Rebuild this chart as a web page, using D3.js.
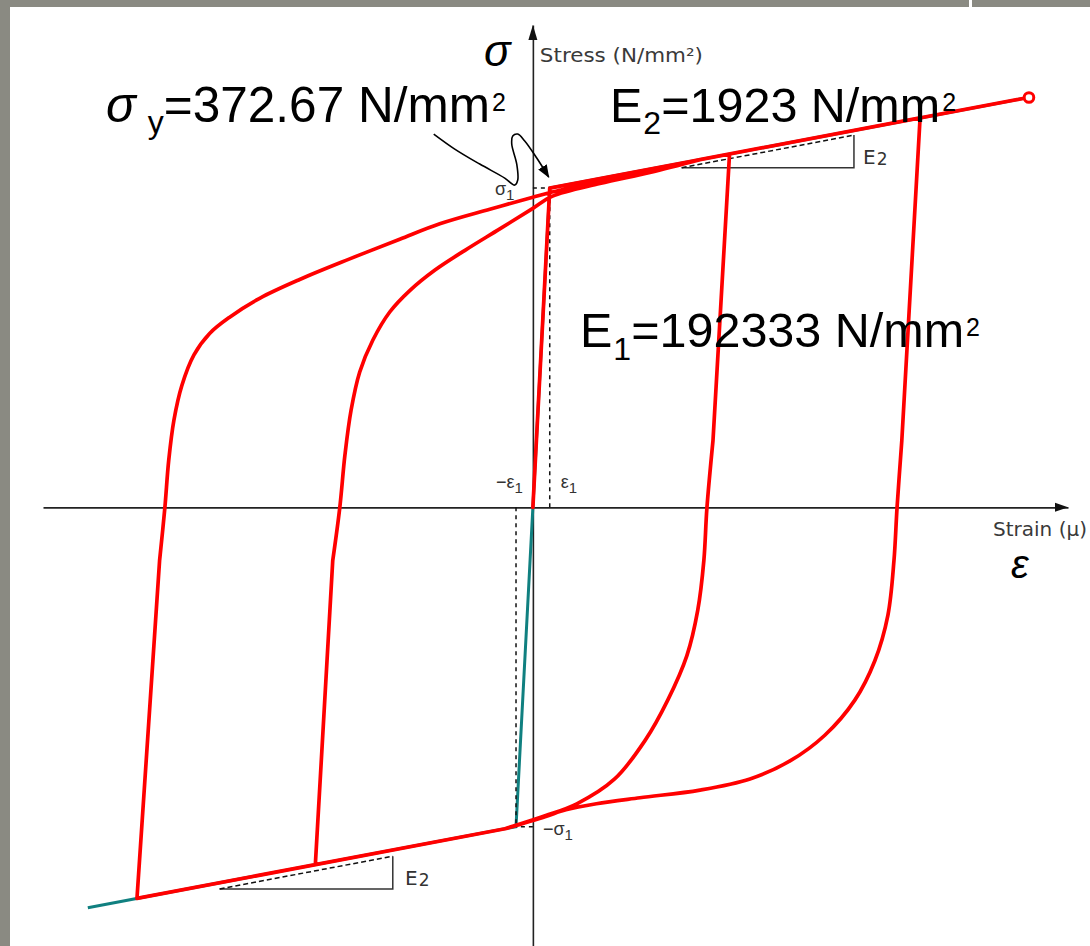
<!DOCTYPE html>
<html><head><meta charset="utf-8">
<script src="https://cdn.jsdelivr.net/npm/d3@7"></script>
<style>html,body{margin:0;padding:0;background:#fff;} svg{display:block;}</style>
</head><body>
<svg id="chart" width="1090" height="946"></svg>
<script>
// Bilinear steel model: stress in N/mm², strain in micro-strain (μ)
const sigmaY = 372.67;
const E1 = 192333;
const E2 = 1923;
const eps1 = sigmaY / E1 * 1e6;

// Axis extents (strain μ, stress N/mm²)
const strainDomain = [-56300, 61500];
const stressDomain = [-512, 563];

// Skeleton curve end strains
const skeletonEnds = [-51150, 56900];

// Reversal points on the skeleton, in loading order (strain μ)
const peakStrain = [22600, -25000, 44500, -45500, 56900];

// Curved branches: first point ends the elastic part, last point rejoins the skeleton
const unload1Strain = [20700, 20000, 19650, 18950, 17700, 15500, 12900, 9400, 5050, 1400, -3200];
const unload1Stress = [78, -1, -62, -120, -173, -225, -272, -317, -346, -360, -375.1];
const reload1Strain = [-23000, -22200, -21600, -20900, -19900, -18400, -16450, -14150, -11250, -7800, -3800, 0, 2200, 7700, 13450, 19200];
const reload1Stress = [-62, -1, 61, 113, 158, 195, 228, 253, 277, 300, 325, 349, 363, 378, 391, 405.9];
const unload2Strain = [42400, 41850, 41500, 40800, 39300, 37000, 33550, 29550, 24950, 19200, 12300, 7300, 3800, 1400, -3200];
const unload2Stress = [78, -1, -62, -126, -179, -225, -266, -296, -317, -330, -339, -346, -353, -361, -375.1];
const reload2Strain = [-42900, -42300, -41850, -41250, -40350, -38950, -37150, -34850, -31400, -26800, -21050, -15300, -10700, -4950, 0, 2200, 7700, 13450, 19200];
const reload2Stress = [-62, -1, 55, 102, 142, 178, 203, 222, 244, 266, 290, 313, 331, 348, 362, 368, 381, 394, 405.9];

// Slope triangles for E2: strain span and base stress
const triangleStrain = [[17100, 36900], [-36000, -16100]];
const triangleBase = [396.4, -445.4];

// Text
const stressAxisLabel = "Stress (N/mm²)";
const strainAxisLabel = "Strain (μ)";

// ---------------------------------------------------------------
const svg = d3.select("#chart");
const W = 1090, H = 946;

const x = d3.scaleLinear().domain(strainDomain).range([43, 1068]);
const y = d3.scaleLinear().domain(stressDomain).range([946, 25]);

function skeleton(e) {
  const a = Math.abs(e);
  if (a <= eps1) return E1 * e * 1e-6;
  return Math.sign(e) * (sigmaY + E2 * (a - eps1) * 1e-6);
}
const pt = (e, s) => [x(e), y(s)];
const zip = (es, ss) => es.map((e, i) => pt(e, ss[i]));

const lin = d3.line();
const smooth = d3.line().curve(d3.curveCatmullRom.alpha(0.5));

// frame
svg.append("rect").attr("width", W).attr("height", H).attr("fill", "#8a8a82");
svg.append("rect").attr("x", 10).attr("y", 7).attr("width", W - 10).attr("height", H - 7).attr("fill", "#fff");
svg.append("rect").attr("x", 969).attr("y", 0).attr("width", 3).attr("height", 8).attr("fill", "#fff");

// axes (no ticks, arrow heads at the positive ends)
const gx = svg.append("g").attr("transform", `translate(0,${y(0)})`)
  .call(d3.axisBottom(x).tickValues([]).tickSizeOuter(0));
const gy = svg.append("g").attr("transform", `translate(${x(0)},0)`)
  .call(d3.axisLeft(y).tickValues([]).tickSizeOuter(0));
[gx, gy].forEach(g => g.select(".domain").attr("stroke", "#222").attr("stroke-width", 1.6));

const xTip = x.range()[1], yTip = y.range()[1];
svg.append("path").attr("fill", "#111")
  .attr("d", `M${xTip},${y(0)}L${xTip - 13},${y(0) - 4.5}L${xTip - 13},${y(0) + 4.5}Z`);
svg.append("path").attr("fill", "#111")
  .attr("d", `M${x(0)},${yTip}L${x(0) - 4.5},${yTip + 15}L${x(0) + 4.5},${yTip + 15}Z`);

// skeleton (teal) underneath the load path
const skelPts = [
  pt(skeletonEnds[0], skeleton(skeletonEnds[0])),
  pt(-eps1, -sigmaY), pt(eps1, sigmaY),
  pt(skeletonEnds[1], skeleton(skeletonEnds[1]))
];
svg.append("path").attr("d", lin(skelPts)).attr("fill", "none")
  .attr("stroke", "#108080").attr("stroke-width", 3);

// dashed reference lines at the yield point
const dash = svg.append("g").attr("fill", "none").attr("stroke", "#111")
  .attr("stroke-width", 1.5).attr("stroke-dasharray", "4,4");
dash.append("path").attr("d", lin([pt(0, sigmaY), pt(eps1, sigmaY)]));
dash.append("path").attr("d", lin([pt(eps1, 0), pt(eps1, sigmaY)]));
dash.append("path").attr("d", lin([pt(-eps1, 0), pt(-eps1, -sigmaY)]));
dash.append("path").attr("d", lin([pt(0, -sigmaY), pt(-eps1, -sigmaY)]));

// E2 slope triangles
triangleStrain.forEach(([e0, e1], i) => {
  const b = triangleBase[i];
  const top = b + E2 * (e1 - e0) * 1e-6;
  svg.append("path").attr("fill", "none").attr("stroke", "#333").attr("stroke-width", 1.5)
    .attr("d", lin([pt(e0, b), pt(e1, b), pt(e1, top)]));
  svg.append("path").attr("fill", "none").attr("stroke", "#111").attr("stroke-width", 1.5)
    .attr("stroke-dasharray", "5,3").attr("d", lin([pt(e0, b), pt(e1, top)]));
});

// load path (red)
const peaks = peakStrain.map(e => pt(e, skeleton(e)));
const curves = [
  zip(unload1Strain, unload1Stress),
  zip(reload1Strain, reload1Stress),
  zip(unload2Strain, unload2Stress),
  zip(reload2Strain, reload2Stress)
];
let d = lin([pt(0, 0), pt(eps1, sigmaY), peaks[0]]);
curves.forEach((c, i) => {
  d += lin([peaks[i], c[0]]) + smooth(c) + lin([c[c.length - 1], peaks[i + 1]]);
});
svg.append("path").attr("d", d).attr("fill", "none").attr("stroke", "#ff0000")
  .attr("stroke-width", 3.7).attr("stroke-linejoin", "round").attr("stroke-linecap", "round");

const endPt = peaks[peaks.length - 1];
svg.append("circle").attr("cx", endPt[0] + 1).attr("cy", endPt[1]).attr("r", 4.8)
  .attr("fill", "#fff").attr("stroke", "#ff0000").attr("stroke-width", 3);

// small axis labels
const small = svg.append("g").attr("font-family", "DejaVu Sans").attr("fill", "#3a3a3a");
small.append("text").attr("x", x(0) + 7).attr("y", 62).attr("font-size", 19)
  .attr("textLength", 163).attr("lengthAdjust", "spacingAndGlyphs").text(stressAxisLabel);
small.append("text").attr("x", 993).attr("y", 536).attr("font-size", 19)
  .attr("textLength", 94).attr("lengthAdjust", "spacingAndGlyphs").text(strainAxisLabel);

const marks = svg.append("g").attr("font-family", "Liberation Sans, Arial, sans-serif").attr("fill", "#333");
function subLabel(xx, yy, main, sub) {
  const t = marks.append("text").attr("x", xx).attr("y", yy).attr("font-size", 18);
  t.append("tspan").text(main);
  t.append("tspan").attr("font-size", 15).attr("dy", 5).text(sub);
}
subLabel(x(0) - 38, y(sigmaY) + 7, "σ", "1");
subLabel(x(-eps1) - 20, y(0) - 19, "−ε", "1");
subLabel(x(eps1) + 11, y(0) - 19, "ε", "1");
subLabel(x(0) + 10, y(-sigmaY) + 8, "−σ", "1");

function e2Label(xx, yy) {
  const t = small.append("text").attr("x", xx).attr("y", yy).attr("font-size", 20).attr("fill", "#333");
  t.append("tspan").text("E");
  t.append("tspan").attr("font-size", 17).attr("dy", 1).attr("dx", 1).text("2");
}
e2Label(863, 164);
e2Label(405, 885);

// large annotations
const big = svg.append("g").attr("font-family", "Liberation Sans, Arial, sans-serif").attr("fill", "#000");
big.append("text").attr("x", 484).attr("y", 66).attr("font-size", 44).attr("font-style", "italic").text("σ");
big.append("text").attr("x", 1011).attr("y", 578).attr("font-size", 40).attr("font-style", "italic").text("ε");

function bigLabel(xx, yy, size, head, headItalic, sub, subGap, subDrop, body) {
  const t = big.append("text").attr("y", yy).attr("font-size", size);
  t.append("tspan").attr("x", xx).attr("font-style", headItalic ? "italic" : null).text(head);
  t.append("tspan").attr("font-size", 32).attr("dx", subGap).attr("dy", subDrop).text(sub);
  t.append("tspan").attr("dy", -subDrop).text(body);
  t.append("tspan").attr("font-size", 25).attr("dx", 2).attr("dy", -11).text("2");
}
bigLabel(106, 122, 49.5, "σ", true, "y", 12, 11, "=372.67 N/mm");
bigLabel(610, 122, 48.5, "E", false, "2", 1, 12, "=1923 N/mm");
bigLabel(580, 347, 48.5, "E", false, "1", 1, 13, "=192333 N/mm");

// callout arrow pointing at the yield point
const defs = svg.append("defs");
defs.append("marker").attr("id", "callout-head").attr("viewBox", "0 0 13 10")
  .attr("refX", 12).attr("refY", 5).attr("markerWidth", 13).attr("markerHeight", 10)
  .attr("markerUnits", "userSpaceOnUse").attr("orient", "auto")
  .append("path").attr("d", "M0,0L13,5L0,10Z").attr("fill", "#000");
const ax0 = x(eps1), ay0 = y(sigmaY);
const calloutOffsets = [[-116, -54], [-95, -39], [-70, -24], [-45, -10], [-35, -3], [-32, -8],
  [-33, -24], [-38, -44], [-37, -52], [-32, -54], [-25, -47], [-13, -30], [-1, -11]];
svg.append("path").attr("d", smooth(calloutOffsets.map(([dx, dy]) => [ax0 + dx, ay0 + dy])))
  .attr("fill", "none").attr("stroke", "#000").attr("stroke-width", 1.6)
  .attr("marker-end", "url(#callout-head)");
</script>
</body></html>
